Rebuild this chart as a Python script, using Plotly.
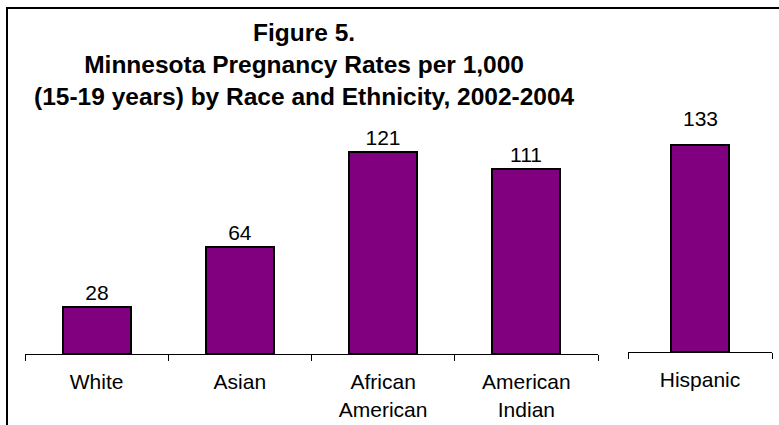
import plotly.graph_objects as go

# Data
race_categories = ["White", "Asian", "African<br>American", "American<br>Indian"]
race_rates = [28, 64, 121, 111]
ethnicity_categories = ["Hispanic"]
ethnicity_rates = [133]

W, H = 779, 425
FONT = "Liberation Sans, Arial, sans-serif"
PURPLE = "#800080"

def px_x(p):
    return p / W

def px_y(p):
    return 1 - p / H

fig = go.Figure()
fig.add_trace(go.Bar(
    x=race_categories, y=race_rates, xaxis="x", yaxis="y",
    marker=dict(color=PURPLE, line=dict(color="black", width=2)),
    width=0.475, text=race_rates, textposition="outside", cliponaxis=False,
    textfont=dict(family=FONT, size=21, color="black"),
))
fig.add_trace(go.Bar(
    x=ethnicity_categories, y=ethnicity_rates, xaxis="x2", yaxis="y2",
    marker=dict(color=PURPLE, line=dict(color="black", width=2)),
    width=0.403, cliponaxis=False,
))
for cat, val in zip(ethnicity_categories, ethnicity_rates):
    fig.add_annotation(
        x=cat, y=val, xref="x2", yref="y2", text=str(val), showarrow=False,
        xanchor="center", yanchor="bottom", yshift=13,
        font=dict(family=FONT, size=21, color="black"),
    )

top_px = 100
left_base, right_base = 354, 352
left_scale, right_scale = 1.668, 1.556

xaxis_common = dict(
    showline=True, linecolor="black", linewidth=1, ticks="outside",
    tickson="boundaries", ticklen=6, tickcolor="black", tickwidth=1,
    ticklabelstandoff=9,
    showgrid=False, zeroline=False, fixedrange=True,
    tickfont=dict(family=FONT, size=21, color="black"),
)
yaxis_common = dict(visible=False, showgrid=False, zeroline=False, fixedrange=True)

fig.update_layout(
    width=W, height=H, margin=dict(l=0, r=0, t=0, b=0),
    paper_bgcolor="white", plot_bgcolor="white", showlegend=False,
    font=dict(family=FONT, color="black"),
    xaxis=dict(domain=[px_x(25), px_x(598)], anchor="y", range=[-0.5, 3.5], **xaxis_common),
    yaxis=dict(domain=[px_y(left_base), px_y(top_px)], anchor="x",
               range=[0, (left_base - top_px) / left_scale], **yaxis_common),
    xaxis2=dict(domain=[px_x(628), px_x(772)], anchor="y2", range=[-0.5, 0.5], **xaxis_common),
    yaxis2=dict(domain=[px_y(right_base), px_y(top_px)], anchor="x2",
                range=[0, (right_base - top_px) / right_scale], **yaxis_common),
    bargap=0,
)

fig.add_annotation(
    text="<b>Figure 5.<br>Minnesota Pregnancy Rates per 1,000<br>(15-19 years) by Race and Ethnicity, 2002-2004</b>",
    xref="paper", yref="paper", x=px_x(304), y=px_y(17), xanchor="center", yanchor="top",
    showarrow=False, align="center", font=dict(family=FONT, size=24.5, color="black"),
)

fig.add_shape(type="rect", xref="paper", yref="paper",
              x0=px_x(7), y0=-0.1, x1=1.1, y1=px_y(8),
              line=dict(color="black", width=2), fillcolor="rgba(0,0,0,0)")

fig.write_html("out.html")
